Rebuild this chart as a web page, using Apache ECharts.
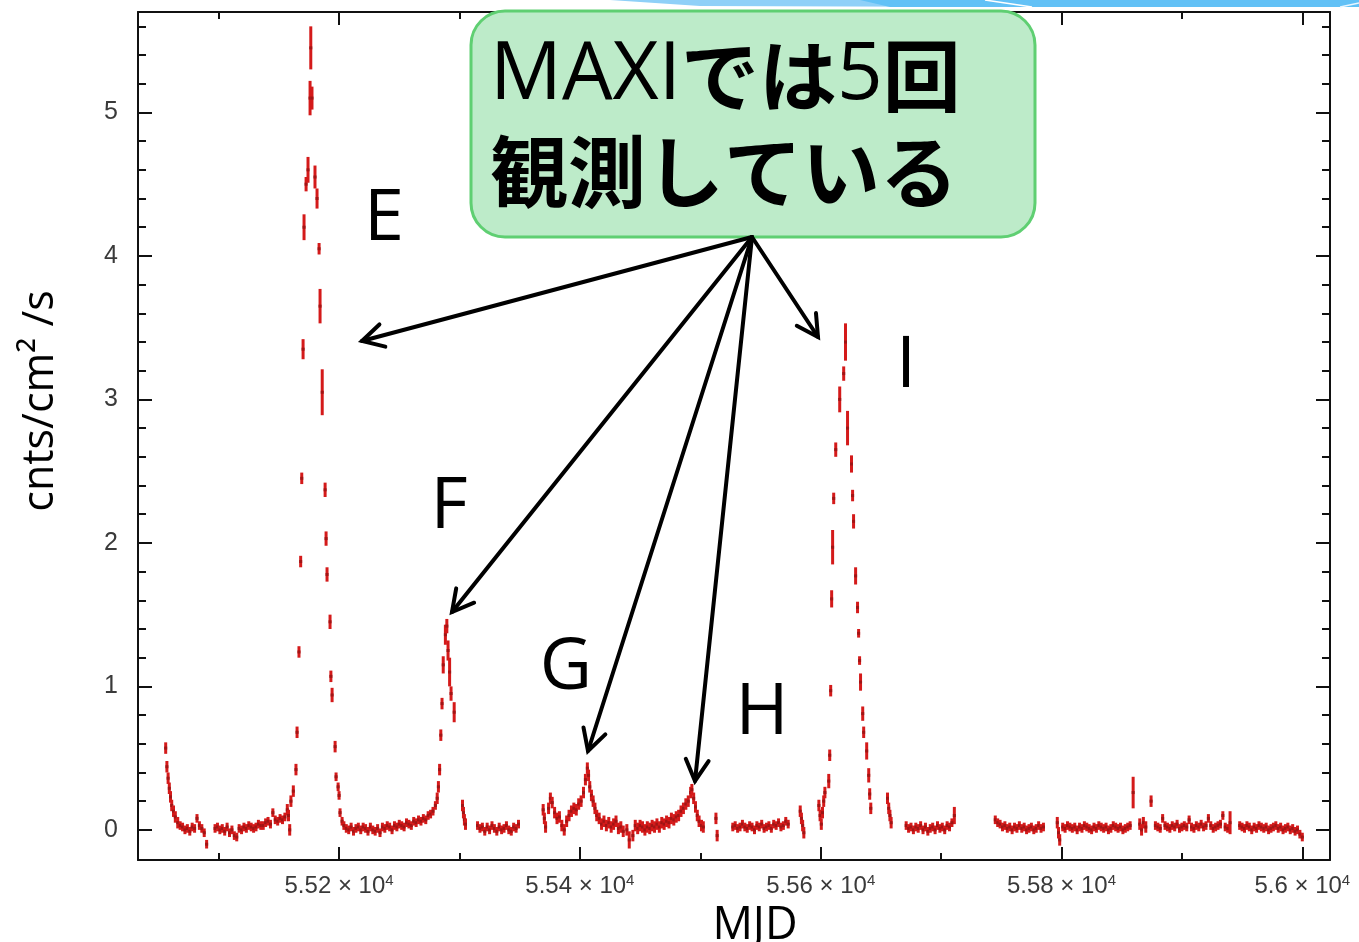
<!DOCTYPE html>
<html><head><meta charset="utf-8">
<script src="https://cdn.jsdelivr.net/npm/echarts@6/dist/echarts.min.js"></script>
<style>html,body{margin:0;padding:0;background:#fff;overflow:hidden}#c{width:1359px;height:942px;}</style>
</head><body><div id="c"></div>
<script>
// ---------------- data (MJD, flux cnts/cm^2/s, error) ----------------
const X_MIN = 55033, X_MAX = 56023;
const Y_MIN = -0.21, Y_MAX = 5.7;
const X_MAJOR = [55200, 55400, 55600, 55800, 56000];
const X_MINOR = [55100, 55300, 55500, 55700, 55900];
const Y_MAJOR = [0, 1, 2, 3, 4, 5];
const Y_MINOR = [0.2,0.4,0.6,0.8,1.2,1.4,1.6,1.8,2.2,2.4,2.6,2.8,3.2,3.4,3.6,3.8,4.2,4.4,4.6,4.8,5.2,5.4,5.6];

const BASE_STEP = 2;      // days between baseline samples
const BASE_ERR = 0.03;    // typical baseline error
const PEAK_ERR = 0.04;

// baseline stretches: start MJD + flux values every BASE_STEP days
const baseA1 = {start: 55068, flux: [.03,.02,.00,.01,-.01,.02,.01,.08,.03,.01,-.02,-.10]};
const baseA2 = {start: 55097, flux: [.01,.02,.00,.01,-.01,.02,-.02,.00,-.04,-.05,.01,.00,.02,.01,.03,.02,.01,.02,.04,.03,.03,.05,.06,.04,.12,.07,.06,.08,.07,.09]};
const baseB  = {start: 55204, flux: [.03,.01,.00,.02,-.01,.01,.02,.00,.02,.01,-.01,.02,.00,-.01,.01,-.02,.02,.01,.03,.02,.00,.03,.02,.04,.03,.02,.05,.04,.03,.06,.05,.07,.06,.08,.07,.10,.11,.13,.17]};
const baseC  = {start: 55315, flux: [.03,.01,.02,-.01,.02,.00,.03,.01,-.01,.02,.00,.01,.03,.00,-.01,.02,.01,.04]};
const baseE2 = {start: 55527, flux: [.02,.03,.01,.02,.04,.02,.01,.03,.02,.00,.03,.02,.04,.01,.02,.03,.01,.04,.03,.05,.02,.03,.06,.04]};
const baseF2 = {start: 55671, flux: [.03,.01,.02,.00,.02,.01,.03,.00,.02,-.01,.01,.02,.00,.03,.01,.02,.00,.03,.02,.05]};
const baseG2 = {start: 55745, flux: [.07,.05,.04,.02,.03,.01,.02,.00,.02,.01,.03,.01,.02,.00,.01,.02,.00,.01,.03,.01,.02]};
const baseH2 = {start: 55801, flux: [.02,.01,.03,.02,.01,.02,.00,.02,.01,.03,.02,.01,.00,.02,.01,.03,.02,.01,.02,.00,.01,.03,.02,.01,.02,.00,.01,.02,.03]};
const baseI2 = {start: 55878, flux: [.03,.02,.01,.08,.03,.02,.01,.03,.02,.04,.01,.02,.03,.02,.07,.02,.01,.03,.02,.04,.02,.03,.08,.03,.01,.02,.03,.04,.10,.02,.01]};
const baseJ2 = {start: 55948, flux: [.03,.02,.01,.03,.02,.00,.02,.01,.03,.02,.01,.02,.00,.01,.02,.03,.01,.02,.00,.01,.02,.00,.01,-.01,.00,-.03,-.05]};

// individual points [MJD, flux, err]
const decayStart = [[55056,0.57],[55057,0.44],[55058,0.36],[55059,0.29],[55060,0.23],[55061,0.17],[55062.5,0.13],[55064,0.09],[55066,0.05]];
const outburstE = [[55157,0.14],[55158,0.10],[55159,0.00],[55160,0.20],[55162,0.27],[55164.2,0.42],[55165.1,0.68],[55166.7,1.24],[55168.1,1.87],[55169,2.45],[55170.1,3.35,0.07],[55170.9,4.2,0.09],[55172.6,4.5,0.05],[55174.2,4.6,0.09],[55175.9,5.1,0.12],[55176.5,5.45,0.15],
  [55177.5,5.1,0.08],[55180,4.55,0.08],[55181.7,4.4,0.07],[55183.4,4.05,0.04],[55184.2,3.65,0.12],[55186,3.05,0.16],[55188.4,2.37,0.05],[55189.2,2.03,0.05],[55190,1.78,0.05],[55192.5,1.45,0.05],[55193.2,1.07,0.04],[55194.2,0.94,0.05],[55196.7,0.58,0.04],[55197.5,0.37,0.03],[55199.2,0.30,0.03],[55200,0.24,0.03],[55200.8,0.12,0.03],[55202.5,0.06,0.03]];
const outburstF = [[55281.5,0.22],[55282.5,0.30],[55283.5,0.42],[55284.5,0.66],[55285.5,0.88],[55286.5,1.15,0.06],[55288.3,1.36,0.07],[55289.5,1.42,0.05],[55290.5,1.25,0.07],[55291.8,1.10,0.10],[55293,0.95,0.05],[55295.6,0.82,0.07],
  [55302.5,0.17],[55303.3,0.12],[55304.1,0.07],[55305,0.04]];
const outburstGH = [[55369.5,0.14],[55370.5,0.08],[55371.5,0.02],[55374,0.15],[55375.5,0.22],[55377,0.19],[55379,0.12],[55381,0.08],[55383,0.09],[55385,0.03],[55387,0.00],[55389,0.06],[55391,0.10],[55393,0.13],[55395,0.15],[55397,0.14],[55399,0.18],[55401,0.20],[55403,0.26],[55404.6,0.35],[55406.2,0.43],[55407.2,0.38],[55408.2,0.30],[55409.6,0.24],[55411,0.20],[55412.5,0.15],[55414,0.10],[55416,0.08],[55418,0.04],[55420,0.06],[55422,0.03],[55424,0.05],[55426,0.02],[55428,0.04],[55430,0.06],[55432,0.01],[55434,0.02],[55436,-0.01],[55439,0.00],[55441,-0.07,0.06],[55444,-0.04],[55446,0.03],[55448,0.01],
  [55450,0.03],[55452,0.02],[55454,0.00],[55456,0.02],[55458,0.01],[55460,0.03],[55462,0.02],[55464,0.04],[55466,0.02],[55468,0.05],[55470,0.04],[55472,0.06],[55474,0.05],[55476,0.08],[55478,0.07],[55480,0.09],[55482,0.10],[55484,0.13],[55486,0.15],[55488,0.18],[55490,0.20],[55492,0.26],[55493,0.28],[55494.5,0.22],[55496,0.16],[55497.5,0.10],[55499,0.06],[55501,0.03],[55502.5,0.02],
  [55513,0.08],[55514,-0.04],[55583,0.13],[55584,0.08],[55585,0.03],[55586,-0.02]];
const outburstI = [[55598.5,0.17],[55599.5,0.10],[55600.5,0.04],[55601.5,0.12],[55602.5,0.20],[55603.5,0.26],
  [55606.7,0.34,0.05],[55607.5,0.52,0.04],[55608.3,0.97,0.04],[55609.1,1.61,0.06],[55609.9,1.97,0.12],[55610.8,2.31,0.04],[55612.5,2.65,0.05],[55615.8,3.0,0.09],[55619.1,3.18,0.05],[55620.6,3.4,0.13],[55622.3,2.8,0.12],[55625.6,2.55,0.06],[55626.5,2.33,0.04],[55627.3,2.15,0.05],[55629,1.77,0.06],[55630.6,1.55,0.04],[55631.5,1.37,0.03],[55632.3,1.18,0.03],[55633.1,1.03,0.06],[55634.9,0.81,0.05],[55635.7,0.68,0.04],[55638.2,0.55,0.06],[55639.9,0.38,0.05],[55640.7,0.25,0.04],[55641.6,0.15,0.04],
  [55655.5,0.22],[55656.5,0.15],[55657.5,0.10],[55658.5,0.05],[55711,0.10,0.06]];
const lateSpikes = [[55796.5,0.05],[55797.5,-0.02],[55798.5,-0.07],[55859.5,0.26,0.11],[55865,0.04],[55866.5,0.00],[55868,0.05],[55870,0.02],[55874.4,0.20,0.04],[55940,0.05,0.08]];

// tick labels / annotation text
const yTickLabels = ['0','1','2','3','4','5'];
const calloutLine1 = [['MAXI','l'],['では','j'],['5','l'],['回','j']];
const calloutLine2 = '観測している';
const outburstLabels = ['E','F','G','H','I'];

// ---------------- build ----------------
function expand(seg){ return seg.flux.map((f,i)=>[seg.start + i*BASE_STEP, f, BASE_ERR]); }
function pts(arr){ return arr.map(p=>[p[0], p[1], p.length>2 ? p[2] : PEAK_ERR]); }
const allData = [].concat(
  pts(decayStart), expand(baseA1), expand(baseA2), pts(outburstE), expand(baseB), pts(outburstF),
  expand(baseC), pts(outburstGH), expand(baseE2), pts(outburstI), expand(baseF2), expand(baseG2),
  expand(baseH2), expand(baseI2), expand(baseJ2), pts(lateSpikes)
);

const chart = echarts.init(document.getElementById('c'), null, {renderer:'canvas'});
const GRID = {left:138, right:29, top:12, bottom:82, outerBoundsMode:'none', containLabel:false};
const AX = '#111';
const tickFont = '"Liberation Sans", Arial, sans-serif';
const latinFont = '"Open Sans", "Noto Sans", sans-serif';

function xAx(gridIndex, position, vals, len, opts){
  return Object.assign({type:'value', gridIndex, position, min:X_MIN, max:X_MAX,
    axisLine:{show:gridIndex===0, onZero:false, lineStyle:{color:AX, width:2}},
    axisTick:{show:true, inside:true, length:len, customValues:vals, lineStyle:{color:AX, width:2}},
    axisLabel:{show:false}, splitLine:{show:false}}, opts||{});
}
function yAx(gridIndex, position, vals, len, opts){
  return Object.assign({type:'value', gridIndex, position, min:Y_MIN, max:Y_MAX,
    axisLine:{show:gridIndex===0, onZero:false, lineStyle:{color:AX, width:2}},
    axisTick:{show:true, inside:true, length:len, customValues:vals, lineStyle:{color:AX, width:2}},
    axisLabel:{show:false}, splitLine:{show:false}}, opts||{});
}

function arrow(x1,y1,x2,y2){
  const ang = Math.atan2(y2-y1, x2-x1), L = 24, a = Math.PI/6.3;
  const p1 = [x2 - L*Math.cos(ang-a), y2 - L*Math.sin(ang-a)];
  const p2 = [x2 - L*Math.cos(ang+a), y2 - L*Math.sin(ang+a)];
  return [
    {type:'line', z:120, shape:{x1,y1,x2,y2}, style:{stroke:'#000', lineWidth:4, lineCap:'round'}},
    {type:'polyline', z:120, shape:{points:[p1,[x2,y2],p2]}, style:{stroke:'#000', lineWidth:4, fill:null, lineJoin:'miter', lineCap:'round'}}
  ];
}
const ORIGIN = [752, 237];
const arrowTips = [[362,341],[452,612],[588,751],[695,781],[818,337]];
const labelPos = [[384,219],[449,507],[566,668],[762,713],[906,366]];

const graphics = [
  // decorative slide band at the top
  {type:'polygon', z:90, shape:{points:[[610,0],[1010,0],[1000,7],[700,6]]}, style:{fill:'#8fd0f8'}},
  {type:'polygon', z:91, shape:{points:[[860,0],[1359,0],[1359,7],[890,7]]}, style:{fill:'#62c1f6'}},
  {type:'line', z:92, shape:{x1:985,y1:0,x2:1032,y2:7}, style:{stroke:'#fff', lineWidth:1.5}},
  {type:'line', z:92, shape:{x1:1340,y1:7,x2:1359,y2:3}, style:{stroke:'#e8f6ff', lineWidth:1.5}},
  // callout box
  {type:'rect', z:100, shape:{x:471, y:11, width:564, height:226, r:34}, style:{fill:'#bdebc9', stroke:'#5fcf72', lineWidth:3}},
  {type:'text', z:110, style:{
    text: calloutLine1.map(p => '{' + p[1] + '|' + p[0] + '}').join(''),
    x:490, y:76, align:'left', verticalAlign:'middle',
    rich:{
      l:{fontFamily:latinFont, fontSize:80, fontWeight:'normal', fill:'#000', lineHeight:96},
      j:{fontFamily:'"Noto Sans CJK JP", sans-serif', fontSize:78, fontWeight:'bold', fill:'#000', lineHeight:96}
    }}},
  {type:'text', z:110, style:{text:calloutLine2, x:490, y:172, font:'bold 78px "Noto Sans CJK JP", sans-serif', fill:'#000', align:'left', verticalAlign:'middle'}}
];
arrowTips.forEach(t => graphics.push(...arrow(ORIGIN[0], ORIGIN[1], t[0], t[1])));
outburstLabels.forEach((s,i) => graphics.push({type:'text', z:110, style:{text:s, x:labelPos[i][0], y:labelPos[i][1], font:'72px ' + latinFont, fill:'#000', align:'center', verticalAlign:'middle'}}));

const option = {
  animation:false,
  backgroundColor:'#fff',
  grid:[Object.assign({}, GRID), Object.assign({}, GRID)],
  xAxis:[
    xAx(0, 'bottom', X_MAJOR, 13, {
      axisLabel:{show:true, customValues:X_MAJOR, margin:13,
        formatter: v => '{b|' + (+(v/1e4).toFixed(2)) + ' × 10}{s|4}',
        rich:{b:{fontFamily:tickFont, fontSize:24, color:'#3a3a3a', lineHeight:27},
              s:{fontFamily:tickFont, fontSize:15, color:'#3a3a3a', lineHeight:15, verticalAlign:'top'}}},
      name:'MJD', nameLocation:'middle', nameGap:43,
      nameTextStyle:{fontFamily:latinFont, fontSize:45, color:'#000', padding:[0,0,0,42]}
    }),
    xAx(0, 'top', X_MAJOR, 13),
    xAx(1, 'bottom', X_MINOR, 7),
    xAx(1, 'top', X_MINOR, 7)
  ],
  yAxis:[
    yAx(0, 'left', Y_MAJOR, 14, {
      axisLabel:{show:true, customValues:Y_MAJOR, margin:20, fontFamily:tickFont, fontSize:25, color:'#3a3a3a',
        formatter: v => yTickLabels[Math.round(v)]},
      name:'cnts/cm² /s', nameLocation:'middle', nameRotate:90, nameGap:76,
      nameTextStyle:{fontFamily:latinFont, fontSize:43, color:'#000', padding:[0,0,0,70]}
    }),
    yAx(0, 'right', Y_MAJOR, 14),
    yAx(1, 'left', Y_MINOR, 8),
    yAx(1, 'right', Y_MINOR, 8)
  ],
  graphic: graphics,
  series:[{
    type:'custom', xAxisIndex:0, yAxisIndex:0, clip:true,
    data: allData,
    renderItem(params, api){
      const x = api.value(0), y = api.value(1), e = api.value(2);
      const p = api.coord([x, y]);
      const hi = api.coord([x, y + e]);
      const lo = api.coord([x, y - e]);
      return {type:'group', children:[
        {type:'line', shape:{x1:p[0], y1:hi[1], x2:p[0], y2:lo[1]}, style:{stroke:'#d41a1a', lineWidth:3}},
        {type:'rect', shape:{x:p[0]-1.5, y:p[1]-1.5, width:3, height:3}, style:{fill:'#a01515'}}
      ]};
    }
  }]
};
chart.setOption(option);
</script></body></html>
